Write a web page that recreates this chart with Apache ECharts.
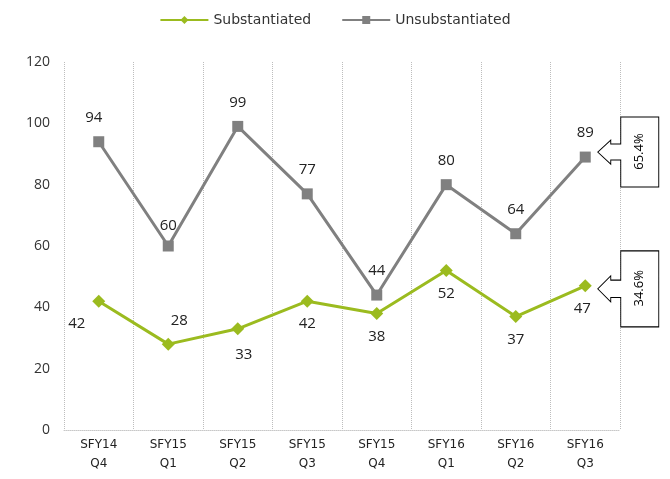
<!DOCTYPE html>
<html>
<head>
<meta charset="utf-8">
<script src="https://cdn.jsdelivr.net/npm/echarts@6/dist/echarts.min.js"></script>
<style>
  html, body { margin: 0; padding: 0; background: #fff; }
  #main { width: 670px; height: 479px; }
</style>
</head>
<body>
<div id="main"></div>
<script>
var quarters = ['SFY14\nQ4', 'SFY15\nQ1', 'SFY15\nQ2', 'SFY15\nQ3', 'SFY15\nQ4', 'SFY16\nQ1', 'SFY16\nQ2', 'SFY16\nQ3'];
var substantiated = [42, 28, 33, 42, 38, 52, 37, 47];
var unsubstantiated = [94, 60, 99, 77, 44, 80, 64, 89];
var yTicks = [0, 20, 40, 60, 80, 100, 120];

var chartDom = document.getElementById('main');
var myChart = echarts.init(chartDom);
var option;

// label placement tweaks (excel-ish leader labels)
var subLabelPos = [
  { position: 'bottom', offset: [-22, 0] },
  { position: 'top', offset: [11, 0] },
  { position: 'bottom', offset: [6, 3] },
  {}, {}, {}, {},
  { position: 'bottom', offset: [-3, 0] }
];
var unsubLabelPos = [
  { offset: [-5, 0] }, { offset: [0, 4] }, {}, {}, {}, {}, {}, {}
];

function withLabels(vals, tweaks) {
  return vals.map(function (v, i) {
    var t = tweaks[i] || {};
    return { value: v, label: t };
  });
}

var last = quarters.length - 1;
var total = substantiated[last] + unsubstantiated[last];
function share(v) { return (v / total * 100).toFixed(1) + '%'; }

// callout: arrow pointing left into a box
var calloutPath = 'path://M0,35 L13,23 L13,27 L23,27 L23,0 L61,0 L61,70 L23,70 L23,43 L13,43 L13,47 Z';

function callout(value, dy, h) {
  return {
    coord: [last, value],
    symbol: calloutPath,
    symbolKeepAspect: false,
    symbolSize: [61, h],
    symbolOffset: [43, dy],
    itemStyle: { color: '#fff', borderColor: '#000', borderWidth: 1 },
    label: {
      show: true,
      formatter: share(value),
      position: [42, h / 2],
      align: 'center',
      verticalAlign: 'middle',
      rotate: 90,
      color: '#000',
      fontFamily: 'Open Sans',
      fontSize: 13
    }
  };
}

option = {
  animation: false,
  legend: {
    top: 8,
    left: 'center',
    itemWidth: 48,
    itemHeight: 10,
    itemGap: 30,
    textStyle: { fontFamily: 'DejaVu Sans', fontSize: 14, color: '#333' },
    data: ['Substantiated', 'Unsubstantiated']
  },
  grid: { left: 64, right: 50, top: 62, bottom: 49 },
  xAxis: {
    type: 'category',
    data: quarters,
    boundaryGap: true,
    axisLine: { lineStyle: { color: '#c8c8c8', type: 'dotted' } },
    axisTick: { show: false },
    splitLine: { show: true, lineStyle: { color: '#bdbdbd', type: 'dotted' } },
    axisLabel: {
      margin: 5,
      color: '#222',
      fontFamily: 'DejaVu Sans',
      fontSize: 12,
      lineHeight: 19
    }
  },
  yAxis: {
    type: 'value',
    min: yTicks[0],
    max: yTicks[yTicks.length - 1],
    interval: 20,
    axisLine: { show: false },
    axisTick: { show: false },
    splitLine: { show: false },
    axisLabel: { margin: 14, color: '#333', fontFamily: 'Open Sans', fontSize: 14 }
  },
  series: [
    {
      name: 'Substantiated',
      type: 'line',
      data: withLabels(substantiated, subLabelPos),
      symbol: 'diamond',
      symbolSize: 13,
      color: '#9bbb1f',
      lineStyle: { width: 3 },
      label: {
        show: true,
        position: 'bottom',
        distance: 9,
        color: '#222',
        fontFamily: 'Open Sans',
        fontSize: 15
      },
      markPoint: { data: [callout(substantiated[last], 3, 76)] }
    },
    {
      name: 'Unsubstantiated',
      type: 'line',
      data: withLabels(unsubstantiated, unsubLabelPos),
      symbol: 'rect',
      symbolSize: 11,
      color: '#808080',
      lineStyle: { width: 3 },
      label: {
        show: true,
        position: 'top',
        distance: 11,
        color: '#222',
        fontFamily: 'Open Sans',
        fontSize: 15
      },
      markPoint: { data: [callout(unsubstantiated[last], -5, 70)] }
    }
  ]
};

myChart.setOption(option);
</script>
</body>
</html>
